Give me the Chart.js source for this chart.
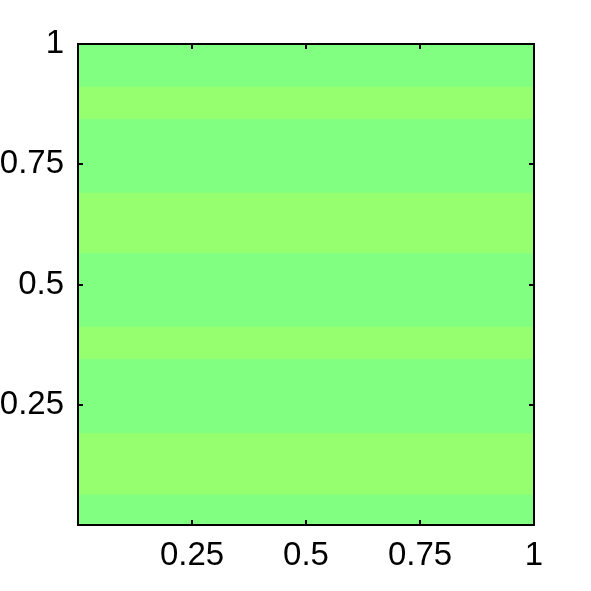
<!DOCTYPE html>
<html>
<head>
<meta charset="utf-8">
<script src="https://cdn.jsdelivr.net/npm/chart.js@4/dist/chart.umd.min.js"></script>
<style>
html,body{margin:0;padding:0;background:#fff;}
canvas{display:block;}
</style>
</head>
<body>
<canvas id="c" width="591" height="591"></canvas>
<script>
// Band boundaries (y values, bottom to top) and colours of each band
const bandEdges = [0, 0.063, 0.191, 0.345, 0.412, 0.565, 0.691, 0.844, 0.911, 1];
const bandColors = ['#80FF80', '#96FF70', '#80FF80', '#96FF70', '#80FF80', '#96FF70', '#80FF80', '#96FF70', '#80FF80'];
const xRange = [0, 1];
const xTicks = [0.25, 0.5, 0.75, 1];
const yTicks = [0.25, 0.5, 0.75, 1];

const datasets = bandColors.map((col, i) => ({
  data: [{x: xRange[0], y: bandEdges[i + 1]}, {x: xRange[1], y: bandEdges[i + 1]}],
  fill: {value: bandEdges[i]},
  backgroundColor: col,
  borderColor: col,
  borderWidth: 0,
  pointRadius: 0,
  tension: 0,
  order: 1
}));
// underlay spanning whole range (first band colour) so band seams never show white
datasets.push({
  data: [{x: xRange[0], y: bandEdges[bandEdges.length - 1]}, {x: xRange[1], y: bandEdges[bandEdges.length - 1]}],
  fill: {value: bandEdges[0]},
  backgroundColor: bandColors[0],
  borderColor: bandColors[0],
  borderWidth: 0,
  pointRadius: 0,
  order: 10
});

const frame = {
  id: 'frame',
  afterDatasetsDraw(chart) {
    const ctx = chart.ctx;
    const a = chart.chartArea;
    const xs = chart.scales.x, ys = chart.scales.y;
    const L = 5;
    ctx.save();
    ctx.strokeStyle = '#000';
    ctx.lineWidth = 2;
    ctx.beginPath();
    xTicks.forEach(v => {
      const px = Math.round(xs.getPixelForValue(v));
      ctx.moveTo(px, a.bottom); ctx.lineTo(px, a.bottom - L);
      ctx.moveTo(px, a.top); ctx.lineTo(px, a.top + L);
    });
    yTicks.forEach(v => {
      const py = Math.round(ys.getPixelForValue(v));
      ctx.moveTo(a.left, py); ctx.lineTo(a.left + L, py);
      ctx.moveTo(a.right, py); ctx.lineTo(a.right - L, py);
    });
    ctx.stroke();
    ctx.strokeRect(a.left, a.top, a.right - a.left, a.bottom - a.top);
    ctx.restore();
  }
};

const font = {family: '"Liberation Sans", Arial, sans-serif', size: 33};

new Chart(document.getElementById('c'), {
  type: 'line',
  data: {datasets},
  options: {
    responsive: false,
    animation: false,
    devicePixelRatio: 1,
    layout: {padding: {top: 44, right: 57, left: 0, bottom: 0}},
    plugins: {legend: {display: false}, tooltip: {enabled: false}},
    scales: {
      x: {
        type: 'linear', min: xRange[0], max: xRange[1],
        grid: {display: false, drawTicks: false},
        border: {display: false},
        afterBuildTicks(s) { s.ticks = xTicks.map(v => ({value: v})); },
        afterFit(s) { s.height = 66; },
        ticks: {font, color: '#000', padding: 11, maxRotation: 0, autoSkip: false,
          callback: v => String(v)}
      },
      y: {
        type: 'linear', min: 0, max: 1,
        grid: {display: false, drawTicks: false},
        border: {display: false},
        afterBuildTicks(s) { s.ticks = yTicks.map(v => ({value: v})); },
        afterFit(s) { s.width = 78; },
        ticks: {font, color: '#000', padding: 14, autoSkip: false,
          callback: v => String(v)}
      }
    }
  },
  plugins: [frame]
});
</script>
</body>
</html>
